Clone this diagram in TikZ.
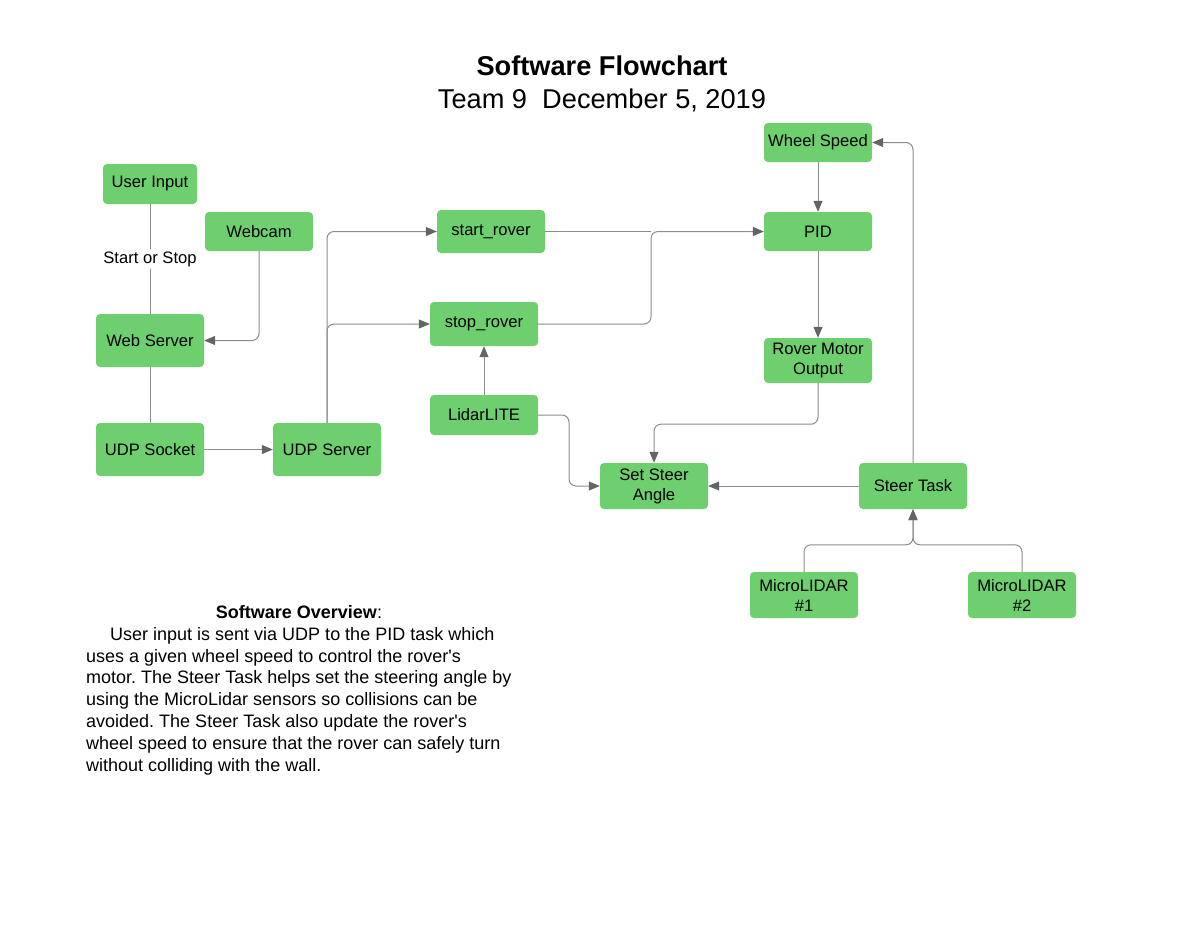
\documentclass[tikz,border=0pt]{standalone}
\usepackage{fontspec}
\setmainfont{Liberation Sans}
\usetikzlibrary{arrows.meta,calc}
\definecolor{boxgreen}{RGB}{109,207,110}
\definecolor{linegray}{RGB}{140,140,140}
\definecolor{tipgray}{RGB}{100,100,100}
\frenchspacing
\begin{document}
\begin{tikzpicture}[x=1pt,y=-1pt,
  box/.style={fill=boxgreen, rounded corners=4pt, minimum width=108pt, align=center,
    font=\fontsize{16.6}{20}\selectfont, inner sep=2pt},
  conn/.style={draw=linegray, line width=1pt, rounded corners=7pt},
  arr/.style={conn, -{Triangle[length=11pt,width=9pt,color=tipgray]}},
  lbl/.style={fill=white, font=\fontsize{16.6}{20}\selectfont, inner sep=2pt}]
\useasboundingbox (0,0) rectangle (1200,927);

% title
\node[font=\fontsize{27.2}{30}\selectfont\bfseries] (title) at (602,66) {Software Flowchart};
\node[font=\fontsize{27.2}{30}\selectfont] (sub) at (602,100) {Team 9\ \ December 5, 2019};

% boxes
\node[box, minimum width=94pt, minimum height=40pt] (user) at (150,184) {User Input};
\node[box, minimum height=39pt] (webcam) at (259,231.5) {Webcam};
\node[box, minimum height=53pt] (websrv) at (150,340.5) {Web Server};
\node[box, minimum height=53pt] (udpsock) at (150,449.5) {UDP Socket};
\node[box, minimum height=53pt] (udpsrv) at (327,449.5) {UDP Server};
\node[box, minimum height=43pt] (start) at (491,231.5) {start\_rover};
\node[box, minimum height=44pt] (stop) at (484,324) {stop\_rover};
\node[box, minimum height=40pt] (lidar) at (484,415) {LidarLITE};
\node[box, minimum height=39pt] (wheel) at (818,142.5) {Wheel Speed};
\node[box, minimum height=39pt] (pid) at (818,231.5) {PID};
\node[box, minimum height=45pt] (motor) at (818,360.5) {Rover Motor\\Output};
\node[box, minimum height=46pt] (steer) at (654,486) {Set Steer\\Angle};
\node[box, minimum height=46pt] (task) at (913,486) {Steer Task};
\node[box, minimum height=46pt] (ml1) at (804,595) {MicroLIDAR\\\#1};
\node[box, minimum height=46pt] (ml2) at (1022,595) {MicroLIDAR\\\#2};

% connectors
\draw[conn] (user) -- node[lbl] (ss) {Start or Stop} (websrv);
\draw[arr] (webcam.south) |- (websrv.east);
\draw[conn] (websrv) -- (udpsock);
\draw[arr] (udpsock) -- (udpsrv);
\draw[arr] (udpsrv.north) |- (start.west);
\draw[arr] (udpsrv.north) |- (stop.west);
\draw[arr] (lidar) -- (stop);
\coordinate (j) at (651,231.5);
\draw[conn] (start.east) -- (j);
\draw[arr] (stop.east) -| (j) -- (pid.west);
\draw[arr] (wheel) -- (pid);
\draw[arr] (pid) -- (motor);
\draw[arr] (motor.south) -- ++(0,41) -| (steer.north);
\draw[arr] (lidar.east) -| ($(lidar.east)!0.5!(steer.west)$) |- (steer.west);
\draw[arr] (task) -- (steer);
\draw[arr] (task.north) |- (wheel.east);
\draw[arr] (ml1.north) -- ++(0,-27) -| (task.south);
\draw[arr] (ml2.north) -- ++(0,-27) -| (task.south);

% overview
\node[font=\fontsize{18}{22}\selectfont] (ovh) at (299,612) {\textbf{Software Overview}:};
\node[font=\fontsize{18}{21.8}\selectfont, align=left, anchor=north west, inner sep=0pt] (ovt) at (86,627)
{\hspace*{24pt}User input is sent via UDP to the PID task which\\
uses a given wheel speed to control the rover\textquotesingle s\\
motor. The Steer Task helps set the steering angle by\\
using the MicroLidar sensors so collisions can be\\
avoided. The Steer Task also update the rover\textquotesingle s\\
wheel speed to ensure that the rover can safely turn\\
without colliding with the wall.};
\end{tikzpicture}
\end{document}
